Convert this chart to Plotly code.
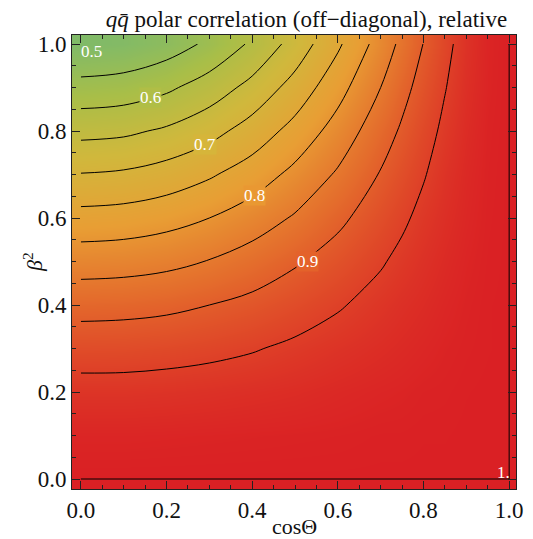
import plotly.graph_objects as go

# grid
cos_vals = [0.0, 0.1, 0.2, 0.3, 0.4, 0.5, 0.6, 0.7, 0.75, 0.8, 0.85, 0.9, 0.95, 1.0]
beta2_vals = [0.0, 0.1, 0.2, 0.3, 0.4, 0.5, 0.6, 0.7, 0.8, 0.9, 1.0]

z_b00 = [1.000, 1.000, 1.000, 1.000, 1.000, 1.000, 1.000, 1.000, 1.000, 1.000, 1.000, 1.000, 1.000, 1.000]
z_b01 = [0.991, 0.991, 0.992, 0.993, 0.994, 0.995, 0.996, 0.998, 0.998, 0.999, 0.999, 1.000, 1.000, 1.000]
z_b02 = [0.967, 0.967, 0.969, 0.972, 0.976, 0.980, 0.986, 0.991, 0.993, 0.996, 0.997, 0.999, 1.000, 1.000]
z_b03 = [0.928, 0.929, 0.933, 0.939, 0.947, 0.958, 0.969, 0.979, 0.984, 0.989, 0.994, 0.997, 0.999, 1.000]
z_b04 = [0.883, 0.885, 0.890, 0.900, 0.912, 0.928, 0.946, 0.965, 0.974, 0.981, 0.989, 0.995, 0.999, 1.000]
z_b05 = [0.827, 0.830, 0.838, 0.852, 0.872, 0.895, 0.919, 0.946, 0.960, 0.972, 0.983, 0.992, 0.998, 1.000]
z_b06 = [0.767, 0.771, 0.782, 0.800, 0.825, 0.855, 0.890, 0.925, 0.943, 0.961, 0.976, 0.988, 0.997, 1.000]
z_b07 = [0.702, 0.707, 0.721, 0.744, 0.774, 0.813, 0.856, 0.903, 0.925, 0.947, 0.969, 0.985, 0.996, 1.000]
z_b08 = [0.636, 0.641, 0.657, 0.683, 0.721, 0.767, 0.820, 0.879, 0.906, 0.933, 0.959, 0.980, 0.995, 1.000]
z_b09 = [0.566, 0.572, 0.591, 0.623, 0.665, 0.719, 0.782, 0.850, 0.886, 0.917, 0.948, 0.975, 0.993, 1.000]
z_b10 = [0.500, 0.507, 0.526, 0.559, 0.608, 0.669, 0.742, 0.821, 0.862, 0.901, 0.937, 0.970, 0.992, 1.000]
z_rows = [z_b00, z_b01, z_b02, z_b03, z_b04, z_b05, z_b06, z_b07, z_b08, z_b09, z_b10]

contour_start, contour_end, contour_step = 0.55, 0.95, 0.05

label_texts = ["0.5", "0.6", "0.7", "0.8", "0.9", "1."]
label_cos = [0.025, 0.163, 0.290, 0.405, 0.529, 0.986]
label_beta2 = [0.982, 0.878, 0.768, 0.651, 0.499, 0.016]
label_bg = [None, "rgb(176,190,70)", "rgb(214,181,58)", "rgb(233,152,50)",
            "rgb(228,98,42)", None]

tick_vals = [0.0, 0.2, 0.4, 0.6, 0.8, 1.0]
tick_text = ["0.0", "0.2", "0.4", "0.6", "0.8", "1.0"]

colorscale = [
    [0.00, "rgb(128,186,104)"],
    [0.16, "rgb(168,190,72)"],
    [0.35, "rgb(208,184,60)"],
    [0.56, "rgb(232,158,52)"],
    [0.75, "rgb(228,108,44)"],
    [1.00, "rgb(218,32,36)"],
]

FONT = "Liberation Serif, Times New Roman, serif"

fig = go.Figure()
fig.add_trace(go.Heatmap(
    x=cos_vals, y=beta2_vals, z=z_rows, zsmooth="best",
    colorscale=colorscale, zmin=0.5, zmax=1.0, showscale=False, hoverinfo="skip",
))
fig.add_trace(go.Contour(
    x=cos_vals, y=beta2_vals, z=z_rows,
    contours=dict(start=contour_start, end=contour_end, size=contour_step, coloring="none"),
    line=dict(color="black", width=1, smoothing=1.0),
    showscale=False, hoverinfo="skip",
))
# degenerate f = 1 contour along the bottom and right edges
fig.add_trace(go.Scatter(
    x=[cos_vals[0], cos_vals[-1], cos_vals[-1]],
    y=[beta2_vals[0], beta2_vals[0], beta2_vals[-1]],
    mode="lines", line=dict(color="black", width=1), hoverinfo="skip", showlegend=False,
))

for t, cx, by, bg in zip(label_texts, label_cos, label_beta2, label_bg):
    kw = dict(bgcolor=bg) if bg else {}
    fig.add_annotation(x=cx, y=by, text=t, showarrow=False, borderpad=0,
                       font=dict(family=FONT, size=17, color="white"), **kw)

axis_common = dict(
    showline=True, linecolor="#222", linewidth=1, mirror="ticks",
    ticks="inside", ticklen=8, tickcolor="#222", tickwidth=1,
    tickvals=tick_vals, ticktext=tick_text,
    minor=dict(dtick=0.05, tick0=0, ticks="inside", ticklen=4, tickcolor="#222"),
    showgrid=False, zeroline=False,
    tickfont=dict(family=FONT, size=23, color="#111"),
)
fig.update_xaxes(range=[-0.0207, 1.016], **axis_common)
fig.update_yaxes(range=[-0.023, 1.0207], **axis_common)

fig.add_annotation(xref="paper", yref="paper", x=0.501, y=-0.082, yanchor="middle",
                   text="cosΘ", showarrow=False, font=dict(family=FONT, size=22, color="#111"))
fig.add_annotation(xref="paper", yref="paper", x=-0.124, y=0.5, textangle=-90,
                   text="<i>β</i><sup>2</sup>", showarrow=False,
                   font=dict(family=FONT, size=22, color="#111"))

fig.update_layout(
    width=525, height=531,
    margin=dict(l=64, r=10, t=27, b=50),
    paper_bgcolor="white", plot_bgcolor="white",
    title=dict(text="<i>q</i><i>q̄</i> polar correlation (off−diagonal), relative",
               x=0.528, xref="paper", xanchor="center", y=0.979, yref="container",
               yanchor="middle", font=dict(family=FONT, size=23, color="#111")),
    showlegend=False,
)

fig.write_html("out.html")
